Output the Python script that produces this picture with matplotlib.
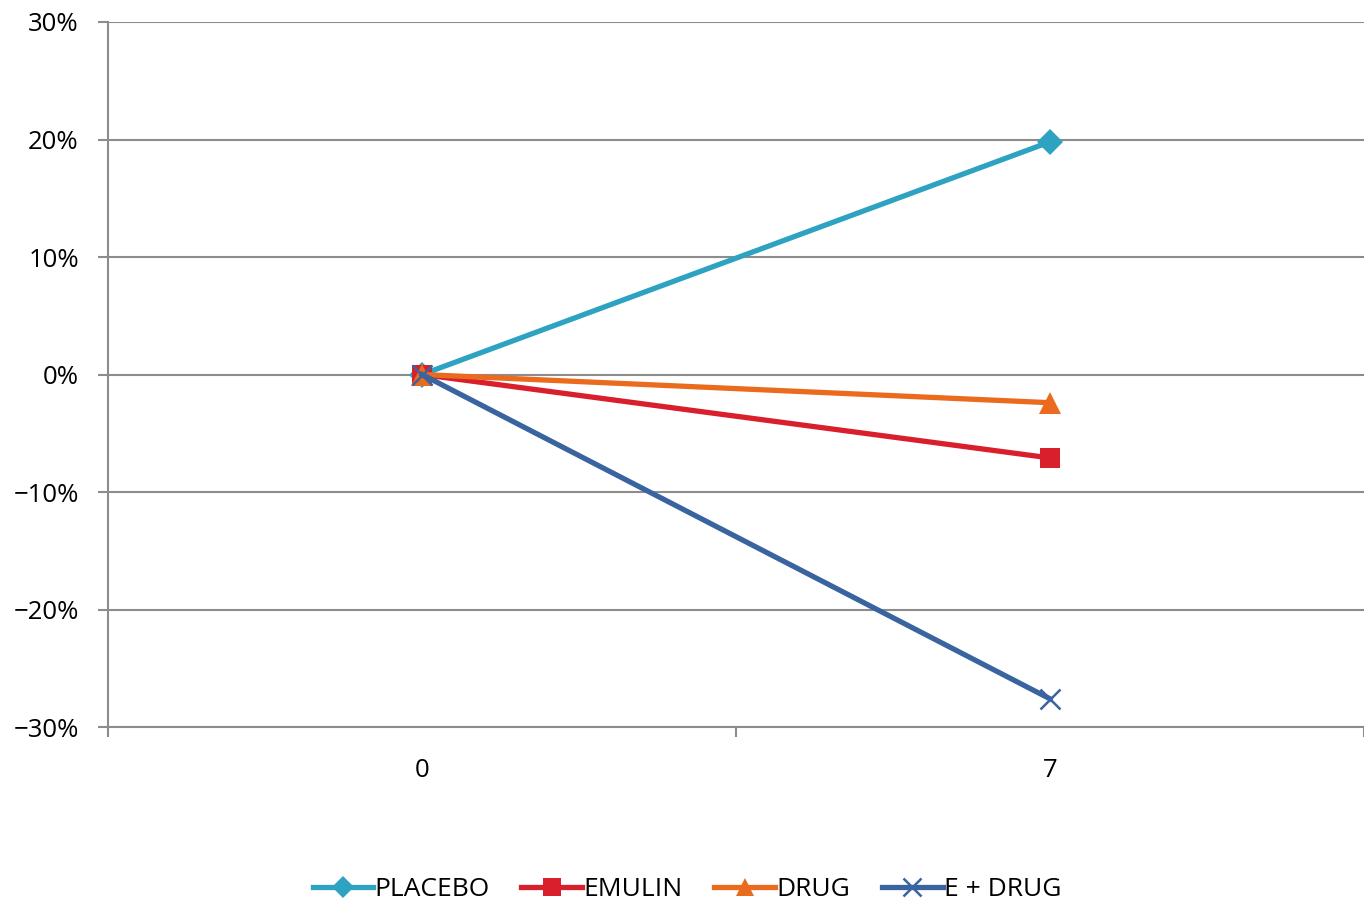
import matplotlib
matplotlib.use("Agg")
import matplotlib.pyplot as plt
from matplotlib.ticker import FuncFormatter

# dane
dni = ["0", "7"]
placebo = [0.0, 19.8]
emulin = [0.0, -7.1]
drug = [0.0, -2.4]
e_drug = [0.0, -27.6]

serie = [
    ("PLACEBO", placebo, "#2ea3c1", "D", 13),
    ("EMULIN", emulin, "#d91f2b", "s", 14.5),
    ("DRUG", drug, "#ea6a1e", "^", 16),
    ("E + DRUG", e_drug, "#3a64a0", "x", 15),
]

plt.rcParams["font.family"] = ["Open Sans", "DejaVu Sans"]

fig = plt.figure(figsize=(13.64, 9.09), dpi=100)
ax = fig.add_axes([0.0792, 0.2002, 0.9208, 0.7756])

x = list(range(len(dni)))
for nazwa, wart, kolor, znak, rozm in serie:
    ax.plot(x, wart, color=kolor, lw=3.8, marker=znak, ms=rozm,
            mew=1.8 if znak == "x" else 0, mec=kolor, label=nazwa)

# osie
ax.set_xlim(-0.5, 1.5)
ax.set_ylim(-30, 30)
ax.set_yticks(range(-30, 31, 10))
ax.yaxis.set_major_formatter(FuncFormatter(lambda v, p: f"{int(v)}%".replace("-", "\u2212")))
ax.set_xticks(x)
ax.set_xticklabels(dni)
ax.set_xticks([-0.5, 0.5, 1.5], minor=True)
ax.tick_params(axis="x", which="major", length=0, pad=22, labelsize=18.5)
ax.tick_params(axis="x", which="minor", length=7, width=1.5, color="#8c8c8c")
ax.tick_params(axis="y", length=7, width=1.5, color="#8c8c8c", pad=14, labelsize=18.5)

ax.grid(axis="y", color="#8c8c8c", lw=1.5)
ax.set_axisbelow(True)
for s in ["top", "right"]:
    ax.spines[s].set_visible(False)
ax.spines["left"].set_color("#8c8c8c")
ax.spines["left"].set_linewidth(1.5)
ax.spines["bottom"].set_color("#8c8c8c")
ax.spines["bottom"].set_linewidth(1.5)

ax.legend(loc="center", bbox_to_anchor=(0.461, -0.231), ncol=4, frameon=False,
          fontsize=19, handlelength=2.3, handletextpad=0.05, columnspacing=1.2,
          markerscale=0.85)

fig.savefig("out.png", dpi=100)
